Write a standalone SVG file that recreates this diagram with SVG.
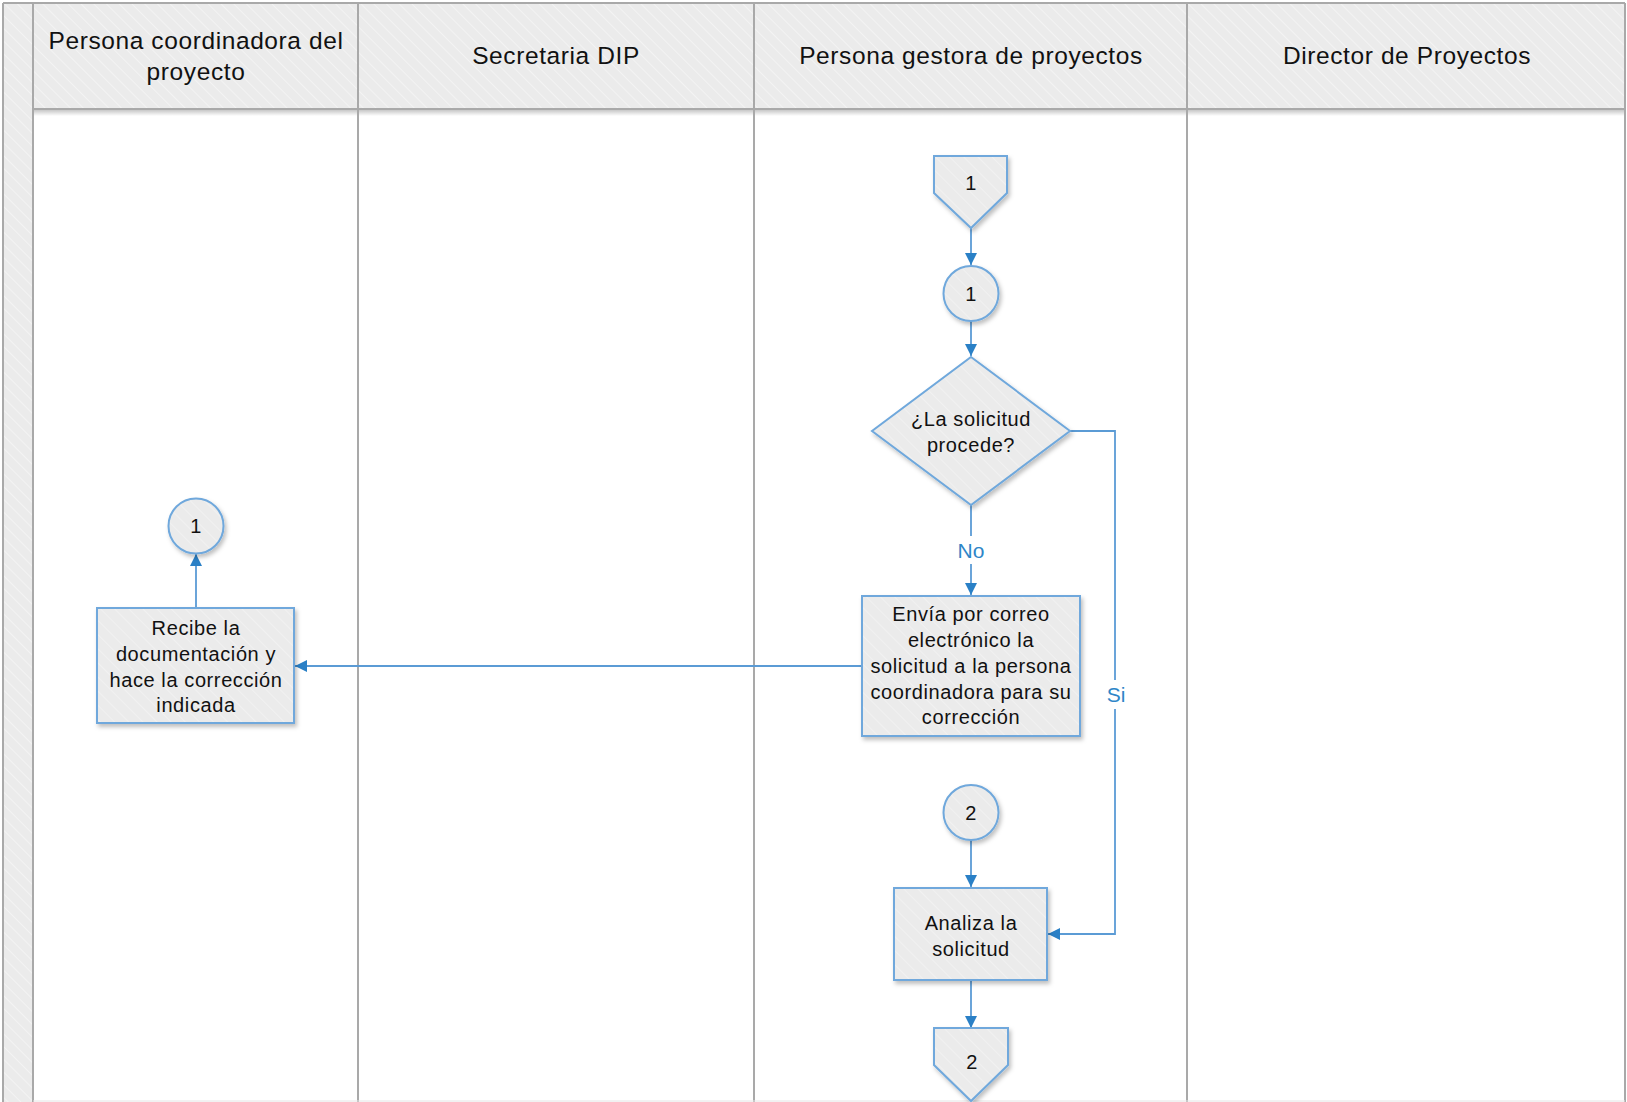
<svg xmlns="http://www.w3.org/2000/svg" width="1627" height="1102" viewBox="0 0 1627 1102">
  <defs>
    <pattern id="hatch" patternUnits="userSpaceOnUse" width="9" height="9" patternTransform="rotate(-45)">
      <rect width="9" height="9" fill="#ebebeb"/>
      <line x1="0" y1="0" x2="0" y2="9" stroke="#f6f6f6" stroke-width="1.5"/>
    </pattern>
    <pattern id="nodeHatch" patternUnits="userSpaceOnUse" width="10" height="10" patternTransform="rotate(-45)">
      <rect width="10" height="10" fill="#ebebeb"/>
      <line x1="0" y1="0" x2="0" y2="10" stroke="#f3f3f3" stroke-width="1.5"/>
    </pattern>
    <linearGradient id="headShadow" x1="0" y1="0" x2="0" y2="1">
      <stop offset="0" stop-color="#000" stop-opacity="0.22"/>
      <stop offset="1" stop-color="#000" stop-opacity="0"/>
    </linearGradient>
    <filter id="shadow" x="-10%" y="-10%" width="125%" height="125%">
      <feDropShadow dx="2" dy="3" stdDeviation="2" flood-color="#000" flood-opacity="0.25"/>
    </filter>
    <marker id="arrow" viewBox="0 0 12 12" refX="12" refY="6" markerWidth="12" markerHeight="12" markerUnits="userSpaceOnUse" orient="auto">
      <path d="M0,0 L12,6 L0,12 Z" fill="#2a80c6"/>
    </marker>
    <style>
      .lane { stroke: #a9a9a9; stroke-width: 2; fill: none; }
      .head { font-family: "Liberation Sans", Arial, sans-serif; font-size: 24.5px; letter-spacing: 0.6px; fill: #111; text-anchor: middle; }
      .shape { fill: url(#nodeHatch); stroke: #6fa8dc; stroke-width: 2; filter: url(#shadow); }
      .txt { font-family: "Liberation Sans", Arial, sans-serif; font-size: 20px; letter-spacing: 0.6px; fill: #111; text-anchor: middle; }
      .conn { stroke: #5b9bd5; stroke-width: 1.8; fill: none; marker-end: url(#arrow); }
      .plain { stroke: #5b9bd5; stroke-width: 1.8; fill: none; }
      .lbl { font-family: "Liberation Sans", Arial, sans-serif; font-size: 21px; fill: #2e86c8; text-anchor: middle; }
    </style>
  </defs>

  <!-- swimlane frame -->
  <g id="lanes">
    <rect x="0" y="0" width="1627" height="1102" fill="#ffffff"/>
    <rect x="3" y="3" width="30" height="1099" fill="url(#hatch)"/>
    <rect x="33" y="3" width="1592" height="106" fill="url(#hatch)"/>
    <rect x="34" y="110" width="1591" height="6" fill="url(#headShadow)"/>
    <line class="lane" x1="3" y1="3" x2="1625" y2="3"/>
    <line class="lane" x1="33" y1="109" x2="1625" y2="109"/>
    <line class="lane" x1="3" y1="3" x2="3" y2="1102"/>
    <line class="lane" x1="33" y1="3" x2="33" y2="1102"/>
    <line class="lane" x1="358" y1="3" x2="358" y2="1102"/>
    <line class="lane" x1="754" y1="3" x2="754" y2="1102"/>
    <line class="lane" x1="1187" y1="3" x2="1187" y2="1102"/>
    <line class="lane" x1="1625" y1="3" x2="1625" y2="1102"/>
    <line x1="33" y1="1101" x2="1625" y2="1101" stroke="#e4e4e4" stroke-width="1"/>
    <text class="head" x="196" y="49">Persona coordinadora del</text>
    <text class="head" x="196" y="80">proyecto</text>
    <text class="head" x="556" y="64">Secretaria DIP</text>
    <text class="head" x="971" y="64">Persona gestora de proyectos</text>
    <text class="head" x="1407" y="64">Director de Proyectos</text>
  </g>

  <!-- connectors -->
  <g id="connectors">
    <line class="conn" x1="971" y1="228" x2="971" y2="265"/>
    <line class="conn" x1="971" y1="321" x2="971" y2="356"/>
    <line class="plain" x1="971" y1="505" x2="971" y2="536"/>
    <line class="conn" x1="971" y1="564" x2="971" y2="595"/>
    <line class="conn" x1="862" y1="666" x2="295" y2="666"/>
    <line class="conn" x1="196" y1="608" x2="196" y2="554"/>
    <path class="plain" d="M1070,431 H1115 V680"/>
    <path class="conn" d="M1115,709 V934 H1048"/>
    <line class="conn" x1="971" y1="840" x2="971" y2="887"/>
    <line class="conn" x1="971" y1="980" x2="971" y2="1028"/>
    <text class="lbl" x="971" y="558">No</text>
    <text class="lbl" x="1116" y="702">Si</text>
  </g>

  <!-- off-page reference 1 -->
  <g id="offpage-1">
    <polygon class="shape" points="934,156 1007,156 1007,193 971,228 934,193"/>
    <text class="txt" x="971" y="190">1</text>
  </g>

  <!-- connector circle 1 -->
  <g id="circle-1">
    <circle class="shape" cx="971" cy="293.5" r="27.5"/>
    <text class="txt" x="971" y="300.5">1</text>
  </g>

  <!-- decision -->
  <g id="decision">
    <polygon class="shape" points="971,357 1070,431 971,505 872,431"/>
    <text class="txt" x="971" y="425.5">¿La solicitud</text>
    <text class="txt" x="971" y="451.5">procede?</text>
  </g>

  <!-- send back for correction -->
  <g id="envia">
    <rect class="shape" x="862" y="596" width="218" height="140"/>
    <text class="txt" x="971" y="621">Envía por correo</text>
    <text class="txt" x="971" y="647">electrónico la</text>
    <text class="txt" x="971" y="673">solicitud a la persona</text>
    <text class="txt" x="971" y="699">coordinadora para su</text>
    <text class="txt" x="971" y="724">corrección</text>
  </g>

  <!-- coordinator receives documentation -->
  <g id="recibe">
    <rect class="shape" x="97" y="608" width="197" height="115"/>
    <text class="txt" x="196" y="635">Recibe la</text>
    <text class="txt" x="196" y="661">documentación y</text>
    <text class="txt" x="196" y="687">hace la corrección</text>
    <text class="txt" x="196" y="712">indicada</text>
  </g>

  <!-- connector circle 1 (coordinator lane) -->
  <g id="circle-1b">
    <circle class="shape" cx="196" cy="526" r="27.5"/>
    <text class="txt" x="196" y="533">1</text>
  </g>

  <!-- connector circle 2 -->
  <g id="circle-2">
    <circle class="shape" cx="971" cy="812.5" r="27.5"/>
    <text class="txt" x="971" y="819.5">2</text>
  </g>

  <!-- analyse request -->
  <g id="analiza">
    <rect class="shape" x="894" y="888" width="153" height="92"/>
    <text class="txt" x="971" y="929.5">Analiza la</text>
    <text class="txt" x="971" y="955.5">solicitud</text>
  </g>

  <!-- off-page reference 2 -->
  <g id="offpage-2">
    <polygon class="shape" points="934,1028 1008,1028 1008,1065 971,1101 934,1065"/>
    <text class="txt" x="972" y="1069">2</text>
  </g>
</svg>
